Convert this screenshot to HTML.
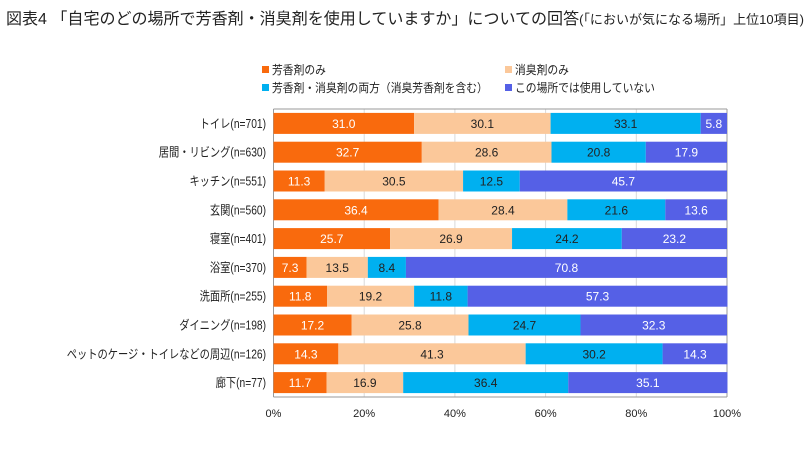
<!DOCTYPE html>
<html><head><meta charset="utf-8"><style>
body{margin:0;background:#fff;}
svg text{font-family:"Liberation Sans","Noto Sans CJK JP",sans-serif;}
</style></head><body>
<svg width="810" height="444" viewBox="0 0 810 444">
<text x="6" y="24" font-size="16" fill="#222" textLength="798" lengthAdjust="spacingAndGlyphs">図表4 「自宅のどの場所で芳香剤・消臭剤を使用していますか」についての回答<tspan font-size="13">(「においが気になる場所」上位10項目)</tspan></text>
<g id="legend"></g>
<g id="grid"></g>
<g id="bars"></g>
<g id="labels"></g>
<g id="ticks"></g>
</svg>
<script>
const categories=["トイレ(n=701)","居間・リビング(n=630)","キッチン(n=551)","玄関(n=560)","寝室(n=401)","浴室(n=370)","洗面所(n=255)","ダイニング(n=198)","ペットのケージ・トイレなどの周辺(n=126)","廊下(n=77)"];
const seriesNames=["芳香剤のみ","消臭剤のみ","芳香剤・消臭剤の両方（消臭芳香剤を含む）","この場所では使用していない"];
const aromaOnly=[31.0,32.7,11.3,36.4,25.7,7.3,11.8,17.2,14.3,11.7];
const deodOnly=[30.1,28.6,30.5,28.4,26.9,13.5,19.2,25.8,41.3,16.9];
const both=[33.1,20.8,12.5,21.6,24.2,8.4,11.8,24.7,30.2,36.4];
const none=[5.8,17.9,45.7,13.6,23.2,70.8,57.3,32.3,14.3,35.1];
const tickValues=[0,20,40,60,80,100];

const NS="http://www.w3.org/2000/svg";
const colors=["#f96a0d","#fbc89a","#00b0f0","#5560e6"];
const textColors=["#fff","#222","#222","#fff"];
const X0=273.5,X1=727,Y0=109,BAND=28.8,BH=21;
const xs=v=>X0+(X1-X0)*v/100;
const yb=i=>Y0+BAND*i+(BAND-BH)/2;
function el(tag,attrs,parent){const e=document.createElementNS(NS,tag);for(const k in attrs)e.setAttribute(k,attrs[k]);parent.appendChild(e);return e;}
const grid=document.getElementById('grid'),bars=document.getElementById('bars'),labels=document.getElementById('labels'),ticks=document.getElementById('ticks'),legend=document.getElementById('legend');
tickValues.forEach(t=>{
  const l=el('line',{x1:xs(t),x2:xs(t),y1:Y0,y2:Y0+BAND*10,stroke:t===0||t===100?'#999':'#d9d9d9','stroke-width':1},grid);
  
  
  const tx=el('text',{x:xs(t),y:417,'font-size':11,'text-anchor':'middle',fill:'#222'},ticks);
  tx.textContent=t+'%';
  
  
});
const topBorder=el('line',{x1:X0,x2:X1,y1:Y0,y2:Y0,stroke:'#999'},grid);
const bottomBorder=el('line',{x1:X0,x2:X1,y1:Y0+BAND*10,y2:Y0+BAND*10,stroke:'#999'},grid);
const series=[aromaOnly,deodOnly,both,none];
categories.forEach((c,i)=>{
  const t=el('text',{x:0,y:0,transform:'translate(266,'+(yb(i)+BH/2+4.5)+') scale(0.82,1)','font-size':12.5,'text-anchor':'end',fill:'#222'},labels);
  t.textContent=c;
  
  
  let acc=0;
  series.forEach((s,k)=>{
    const v=s[i];
    const r=el('rect',{x:xs(acc),y:yb(i),width:xs(acc+v)-xs(acc),height:BH,fill:colors[k]},bars);
    
    
    const vt=el('text',{x:(xs(acc)+xs(acc+v))/2,y:yb(i)+BH/2+4.5,'font-size':12,'text-anchor':'middle',fill:textColors[k]},bars);
    vt.textContent=v.toFixed(1);
    
    
    acc+=v;
  });
});
const lpos=[[262,70],[505,70],[262,88],[505,88]];
seriesNames.forEach((n,k)=>{
  const g=el('g',{},legend);
  
  
  el('rect',{x:lpos[k][0],y:lpos[k][1]-4,width:7,height:7,fill:colors[k]},g);
  const t=el('text',{x:0,y:0,transform:'translate('+(lpos[k][0]+10)+','+(lpos[k][1]+4)+') scale(0.9,1)','font-size':12,fill:'#222'},g);
  t.textContent=n;
});
</script>
</body></html>
